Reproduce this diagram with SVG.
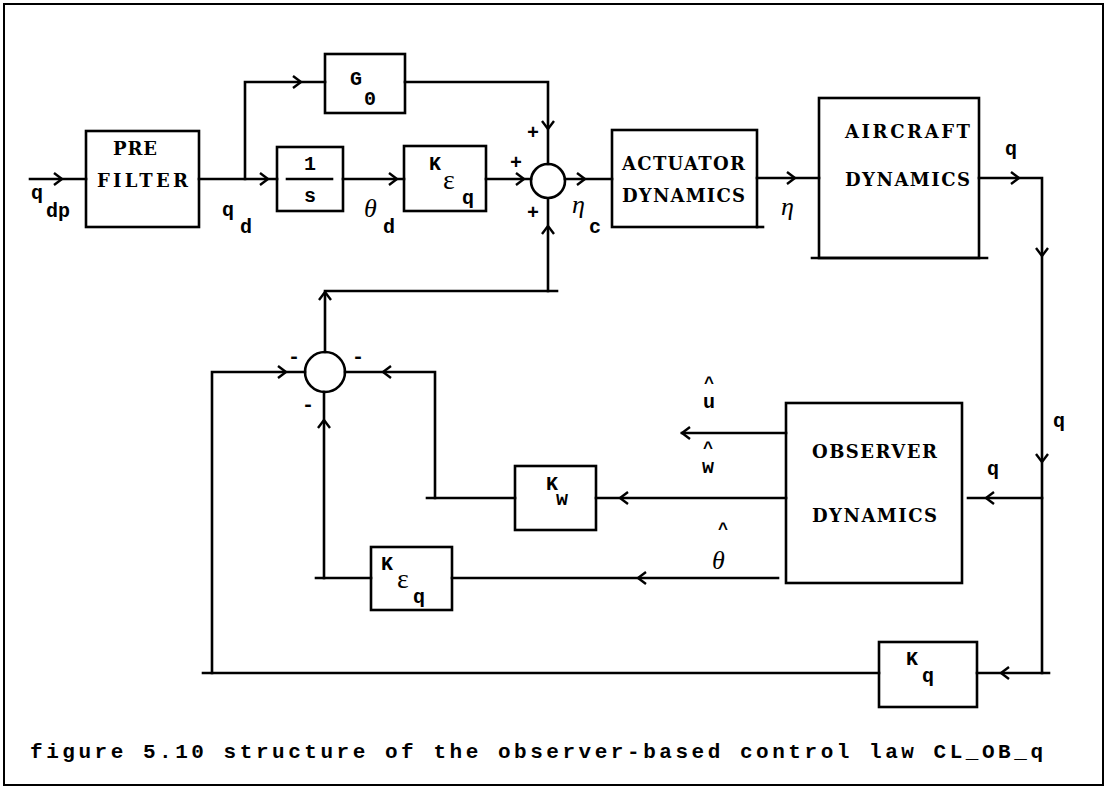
<svg xmlns="http://www.w3.org/2000/svg" width="1105" height="787" viewBox="0 0 1105 787">
<style>
.bx{fill:none;stroke:#000;stroke-width:2.6}
.ln{fill:none;stroke:#000;stroke-width:2.6;stroke-linecap:square;stroke-linejoin:miter}
.lbl{font-family:"DejaVu Serif",serif;font-weight:bold;font-size:18px;fill:#000}
.v{font-family:"Liberation Mono",monospace;font-weight:bold;font-size:20px;fill:#000}
.hat{font-family:"Liberation Mono",monospace;font-weight:bold;font-size:17px;fill:#000}
.g{font-family:"Liberation Serif",serif;font-style:italic;font-size:26px;fill:#000}
.e{font-family:"Liberation Serif",serif;font-size:28px;fill:#000}
.cap{font-family:"Liberation Mono",monospace;font-weight:bold;font-size:21px;fill:#000}
</style>
<defs>
<path id="ch" d="M-8,-6 L0,0 L-8,6" fill="none" stroke="#000" stroke-width="2.4"/>
</defs>
<rect width="1105" height="787" fill="#fff"/>
<rect x="4" y="4" width="1099" height="781" fill="none" stroke="#000" stroke-width="2"/>

<g id="connectors">
<path class="ln" d="M30,179 H86"/>
<path class="ln" d="M199,179 H277"/>
<path class="ln" d="M245,179 V82 H325"/>
<path class="ln" d="M343,179 H404"/>
<path class="ln" d="M486,179 H531"/>
<path class="ln" d="M405,82 H548 V164"/>
<path class="ln" d="M565,179 H612"/>
<path class="ln" d="M757,178 H819"/>
<path class="ln" d="M979,178 H1042 V673 H1049"/>
<path class="ln" d="M1042,498 H968"/>
<path class="ln" d="M1042,673 H977"/>
<path class="ln" d="M879,673 H203"/>
<path class="ln" d="M212,673 V372 H305"/>
<path class="ln" d="M786,433 H682"/>
<path class="ln" d="M786,498 H596"/>
<path class="ln" d="M515,498 H427"/>
<path class="ln" d="M435,498 V372 H345"/>
<path class="ln" d="M778,578 H452"/>
<path class="ln" d="M371,578 H316"/>
<path class="ln" d="M324,578 V392"/>
<path class="ln" d="M325,352 V291 H557"/>
<path class="ln" d="M548,291 V199"/>
<use href="#ch" transform="translate(62,179)"/>
<use href="#ch" transform="translate(268,179)"/>
<use href="#ch" transform="translate(301,82)"/>
<use href="#ch" transform="translate(397,179)"/>
<use href="#ch" transform="translate(524,179)"/>
<use href="#ch" transform="translate(548,129) rotate(90)"/>
<use href="#ch" transform="translate(548,226) rotate(-90)"/>
<use href="#ch" transform="translate(585,179)"/>
<use href="#ch" transform="translate(795,178)"/>
<use href="#ch" transform="translate(1019,178)"/>
<use href="#ch" transform="translate(1042,256) rotate(90)"/>
<use href="#ch" transform="translate(1042,462) rotate(90)"/>
<use href="#ch" transform="translate(986,498) rotate(180)"/>
<use href="#ch" transform="translate(1001,673) rotate(180)"/>
<use href="#ch" transform="translate(682,433) rotate(180)"/>
<use href="#ch" transform="translate(620,498) rotate(180)"/>
<use href="#ch" transform="translate(638,578) rotate(180)"/>
<use href="#ch" transform="translate(383,372) rotate(180)"/>
<use href="#ch" transform="translate(286,372)"/>
<use href="#ch" transform="translate(324,420) rotate(-90)"/>
<use href="#ch" transform="translate(325,292) rotate(-90)"/>
</g>

<g id="prefilter">
<rect class="bx" x="86" y="131" width="113" height="96"/>
<text class="lbl" x="113" y="155" textLength="44" lengthAdjust="spacing">PRE</text>
<text class="lbl" x="97" y="187" textLength="91" lengthAdjust="spacing">FILTER</text>
</g>
<g id="g0">
<rect class="bx" x="325" y="54" width="80" height="59"/>
<text class="v" x="350" y="85">G</text>
<text class="v" x="364" y="105">0</text>
</g>
<g id="integrator">
<rect class="bx" x="277" y="147" width="66" height="64"/>
<text class="v" x="310" y="170" text-anchor="middle">1</text>
<path class="ln" d="M287,179 H332"/>
<text class="v" x="310" y="202" text-anchor="middle">s</text>
</g>
<g id="keq-top">
<rect class="bx" x="404" y="146" width="82" height="65"/>
<text class="v" x="429" y="170">K</text>
<text class="e" x="443" y="189">ε</text>
<text class="v" x="462" y="204">q</text>
</g>
<g id="sum1">
<circle cx="548" cy="181" r="17" fill="none" stroke="#000" stroke-width="2.6"/>
<text class="v" x="533" y="139" text-anchor="middle">+</text>
<text class="v" x="516" y="169" text-anchor="middle">+</text>
<text class="v" x="533" y="219" text-anchor="middle">+</text>
</g>
<g id="actuator">
<rect class="bx" x="612" y="130" width="145" height="97"/>
<path class="ln" d="M757,227 H763"/>
<text class="lbl" x="622" y="170" textLength="123" lengthAdjust="spacing">ACTUATOR</text>
<text class="lbl" x="622" y="202" textLength="123" lengthAdjust="spacing">DYNAMICS</text>
</g>
<g id="aircraft">
<rect class="bx" x="819" y="98" width="160" height="160"/>
<path class="ln" d="M812,258 H987"/>
<text class="lbl" x="845" y="138" textLength="125" lengthAdjust="spacing">AIRCRAFT</text>
<text class="lbl" x="845" y="186" textLength="125" lengthAdjust="spacing">DYNAMICS</text>
</g>
<g id="observer">
<rect class="bx" x="786" y="403" width="176" height="180"/>
<text class="lbl" x="812" y="458" textLength="125" lengthAdjust="spacing">OBSERVER</text>
<text class="lbl" x="812" y="522" textLength="125" lengthAdjust="spacing">DYNAMICS</text>
</g>
<g id="kw">
<rect class="bx" x="515" y="466" width="81" height="64"/>
<text class="v" x="546" y="490">K</text>
<text class="v" x="556" y="505">w</text>
</g>
<g id="keq-bottom">
<rect class="bx" x="371" y="547" width="81" height="63"/>
<text class="v" x="381" y="570">K</text>
<text class="e" x="397" y="588">ε</text>
<text class="v" x="413" y="603">q</text>
</g>
<g id="kq">
<rect class="bx" x="879" y="642" width="98" height="65"/>
<text class="v" x="906" y="665">K</text>
<text class="v" x="922" y="682">q</text>
</g>
<g id="sum2">
<circle cx="325" cy="372" r="20" fill="none" stroke="#000" stroke-width="2.6"/>
<text class="v" x="294" y="363" text-anchor="middle">-</text>
<text class="v" x="358" y="363" text-anchor="middle">-</text>
<text class="v" x="308" y="411" text-anchor="middle">-</text>
</g>

<g id="labels">
<text class="v" x="31" y="199">q</text>
<text class="v" x="46" y="217">dp</text>
<text class="v" x="222" y="216">q</text>
<text class="v" x="240" y="233">d</text>
<text class="g" x="364" y="217">θ</text>
<text class="v" x="383" y="233">d</text>
<text class="g" x="572" y="213">η</text>
<text class="v" x="589" y="233">c</text>
<text class="g" x="781" y="215">η</text>
<text class="v" x="1005" y="155">q</text>
<text class="v" x="1053" y="427">q</text>
<text class="v" x="987" y="475">q</text>
<text class="hat" x="704" y="388">^</text>
<text class="v" x="703" y="408">u</text>
<text class="hat" x="703" y="453">^</text>
<text class="v" x="702" y="473">w</text>
<text class="hat" x="718" y="534">^</text>
<text class="g" x="712" y="569">θ</text>
</g>

<text class="cap" x="30" y="758" textLength="1013" lengthAdjust="spacing">figure 5.10  structure of the observer-based control law CL_OB_q</text>
</svg>
